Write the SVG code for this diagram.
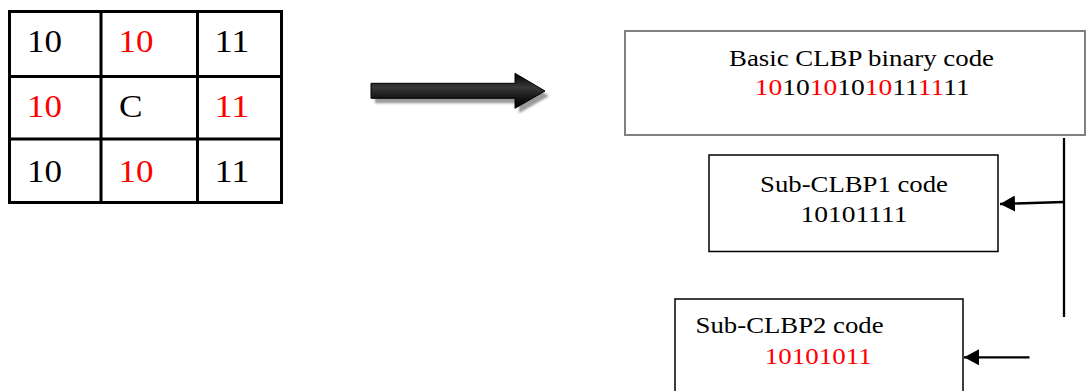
<svg xmlns="http://www.w3.org/2000/svg" width="1086" height="391" viewBox="0 0 1086 391">
<defs>
<style>
.g{font-size:32px}
.b{font-size:24px}
.r{fill:#ff0000}
.grid{stroke:#000;stroke-width:3;fill:none}
.conn{stroke:#000;stroke-width:2.3;fill:none}
</style>
<linearGradient id="shaft" x1="0" y1="0" x2="0" y2="1">
<stop offset="0" stop-color="#000"/>
<stop offset="0.4" stop-color="#383838"/>
<stop offset="0.75" stop-color="#111"/>
<stop offset="1" stop-color="#000"/>
</linearGradient>
<filter id="blur" x="-10%" y="-30%" width="120%" height="160%"><feGaussianBlur stdDeviation="1"/></filter>
<marker id="ah" viewBox="0 0 15 16" refX="15" refY="8" markerWidth="15" markerHeight="16" markerUnits="userSpaceOnUse" orient="auto">
<path d="M0,0 L15,8 L0,16 Z" fill="#000"/>
</marker>
</defs>
<rect width="1086" height="391" fill="#fff"/>

<g font-family="'Liberation Serif', 'Times New Roman', Times, serif" fill="#000">
<g id="grid">
<path class="grid" d="M9.5,11.5 H281.5 M9.5,76.5 H281.5 M9.5,139 H281.5 M9.5,202.5 H281.5 M9.5,10 V204 M101,10 V204 M197.5,10 V204 M281.5,10 V204"/>
<text class="g" x="27" y="52" textLength="35" lengthAdjust="spacingAndGlyphs">10</text>
<text class="g r" x="118.5" y="52" textLength="35" lengthAdjust="spacingAndGlyphs">10</text>
<text class="g" x="214.5" y="52" textLength="35" lengthAdjust="spacingAndGlyphs">11</text>
<text class="g r" x="27" y="116.5" textLength="35" lengthAdjust="spacingAndGlyphs">10</text>
<text class="g" x="119" y="116.5" textLength="23.5" lengthAdjust="spacingAndGlyphs">C</text>
<text class="g r" x="214.5" y="116.5" textLength="35" lengthAdjust="spacingAndGlyphs">11</text>
<text class="g" x="27" y="181.5" textLength="35" lengthAdjust="spacingAndGlyphs">10</text>
<text class="g r" x="118.5" y="181.5" textLength="35" lengthAdjust="spacingAndGlyphs">10</text>
<text class="g" x="214.5" y="181.5" textLength="35" lengthAdjust="spacingAndGlyphs">11</text>
</g>

<g id="big-arrow">
<polygon points="375,88.3 519,88.3 519,78.3 549,96 519,113.3 519,103.3 375,103.3" fill="#9a9a9a" filter="url(#blur)"/>
<polygon points="371,83.3 515,83.3 515,73.3 545,91 515,108.3 515,98.3 371,98.3" fill="url(#shaft)" stroke="#000" stroke-width="1"/>
</g>

<g id="basic">
<rect x="625" y="31" width="460" height="104" fill="#fff" stroke="#808080" stroke-width="2"/>
<text class="b" x="729" y="65.5" textLength="265" lengthAdjust="spacingAndGlyphs">Basic CLBP binary code</text>
<text class="b" x="754.7" y="95" textLength="215" lengthAdjust="spacingAndGlyphs"><tspan class="r">10</tspan>10<tspan class="r">10</tspan>10<tspan class="r">10</tspan>11<tspan class="r">11</tspan>11</text>
</g>

<g id="sub1">
<rect x="709" y="155" width="289" height="96.5" fill="#fff" stroke="#000" stroke-width="1.5"/>
<text class="b" x="760" y="192" textLength="188" lengthAdjust="spacingAndGlyphs">Sub-CLBP1 code</text>
<text class="b" x="800.5" y="222" textLength="107" lengthAdjust="spacingAndGlyphs">10101111</text>
</g>

<g id="sub2">
<rect x="675" y="299" width="288" height="100" fill="#fff" stroke="#000" stroke-width="1.5"/>
<text class="b" x="695.6" y="332.5" textLength="188" lengthAdjust="spacingAndGlyphs">Sub-CLBP2 code</text>
<text class="b r" x="764.8" y="363.5" textLength="107" lengthAdjust="spacingAndGlyphs">10101011</text>
</g>
</g>

<g id="connectors">
<line class="conn" x1="1064" y1="138" x2="1064" y2="317"/>
<line class="conn" x1="1064" y1="202" x2="1000" y2="204" marker-end="url(#ah)"/>
<line class="conn" x1="1029.5" y1="357.3" x2="964" y2="357.3" marker-end="url(#ah)"/>
</g>
</svg>
